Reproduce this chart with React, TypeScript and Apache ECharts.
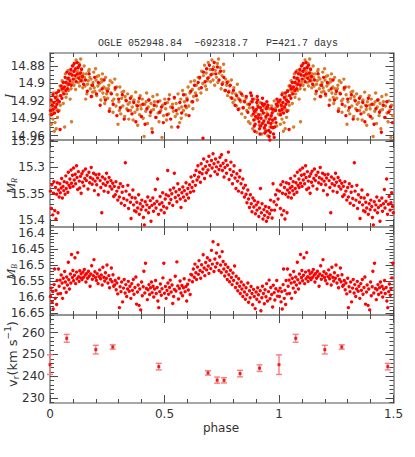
import React, { useEffect, useRef } from 'react';
import * as echarts from 'echarts';

const TITLE = 'OGLE 052948.84  \u2212692318.7   P=421.7 days';
const X_LABELS = [0, 0.5, 1, 1.5];
const I_TICKS = [14.88, 14.9, 14.92, 14.94, 14.96];
const R_TICKS = [15.25, 15.3, 15.35, 15.4];
const B_TICKS = [16.4, 16.45, 16.5, 16.55, 16.6, 16.65];
const V_TICKS = [230, 240, 250, 260];

// I band, orange survey: flat list of phase, mag pairs over one cycle
const iOrangeFlat = [
0.001,14.936,0.004,14.922,0.006,14.947,0.009,14.933,0.012,14.928,0.013,14.941,0.015,14.911,0.018,14.927,0.019,14.955,0.022,14.945,0.025,14.918,0.027,14.952,0.029,14.930,0.031,14.915,0.033,14.939,0.036,14.921,0.038,14.908,0.040,14.931,0.044,14.903,0.045,14.925,0.048,14.914,0.050,14.907,0.053,14.897,0.057,14.910,0.058,14.923,0.061,14.906,0.064,14.950,0.066,14.899,0.067,14.889,0.070,14.916,0.072,14.912,0.075,14.895,0.077,14.902,0.079,14.885,0.081,14.908,0.083,14.894,0.086,14.900,0.088,14.918,0.090,14.887,0.092,14.906,0.094,14.944,0.097,14.891,0.099,14.899,
0.102,14.879,0.105,14.902,0.107,14.886,0.109,14.895,0.112,14.907,0.114,14.873,0.116,14.890,0.117,14.893,0.119,14.886,0.122,14.881,0.124,14.899,0.127,14.877,0.129,14.903,0.131,14.891,0.134,14.872,0.136,14.888,0.137,14.883,0.139,14.894,0.141,14.897,0.143,14.905,0.146,14.889,0.149,14.880,
0.151,14.893,0.153,14.903,0.156,14.918,0.158,14.889,0.161,14.912,0.164,14.901,0.167,14.897,0.169,14.886,0.171,14.884,0.174,14.893,0.176,14.906,0.179,14.895,0.181,14.902,0.183,14.915,0.186,14.910,0.188,14.899,0.191,14.887,0.193,14.905,0.196,14.909,0.199,14.883,0.201,14.896,0.204,14.914,0.206,14.892,0.209,14.903,0.213,14.891,0.216,14.900,0.218,14.908,0.222,14.919,0.224,14.895,0.226,14.898,0.229,14.889,0.231,14.911,0.235,14.904,0.237,14.916,0.239,14.923,0.243,14.893,0.244,14.906,0.247,14.912,
0.252,14.917,0.255,14.906,0.257,14.902,0.261,14.929,0.263,14.897,0.266,14.911,0.271,14.899,0.273,14.920,0.275,14.933,0.279,14.918,0.283,14.895,0.284,14.907,0.288,14.926,0.291,14.904,0.293,14.913,0.297,14.947,0.301,14.921,0.303,14.931,0.305,14.904,0.309,14.935,0.313,14.917,0.315,14.910,0.318,14.926,0.322,14.909,0.326,14.938,0.328,14.915,0.331,14.919,0.335,14.929,0.339,14.912,0.341,14.924,0.344,14.941,0.348,14.922,
0.352,14.931,0.356,14.915,0.359,14.927,0.363,14.942,0.365,14.920,0.367,14.919,0.371,14.933,0.374,14.910,0.378,14.925,0.381,14.930,0.383,14.948,0.386,14.921,0.391,14.936,0.394,14.914,0.396,14.925,0.398,14.929,0.403,14.918,0.407,14.940,0.411,14.961,0.414,14.924,0.418,14.932,0.420,14.921,0.422,14.911,0.426,14.946,0.429,14.927,0.433,14.919,0.437,14.937,0.441,14.923,0.443,14.931,0.445,14.952,0.449,14.915,0.452,14.930,0.456,14.921,0.461,14.939,0.465,14.926,0.468,14.913,0.472,14.934,0.476,14.944,0.480,14.920,0.484,14.931,0.489,14.962,0.492,14.925,0.496,14.937,
0.501,14.918,0.505,14.929,0.509,14.942,0.513,14.922,0.518,14.935,0.522,14.913,0.527,14.927,0.531,14.950,0.535,14.924,0.539,14.932,0.543,14.917,0.547,14.938,0.551,14.923,0.555,14.935,0.559,14.912,0.563,14.929,0.566,14.945,0.571,14.918,0.573,14.940,0.575,14.927,0.579,14.908,0.583,14.931,0.587,14.921,0.591,14.913,0.594,14.936,0.596,14.928,0.598,14.917,0.603,14.904,0.606,14.926,0.611,14.911,0.615,14.898,0.618,14.921,0.622,14.907,0.624,14.929,0.627,14.915,0.631,14.897,0.635,14.911,0.639,14.902,0.643,14.919,0.647,14.893,
0.651,14.906,0.653,14.894,0.659,14.911,0.662,14.886,0.667,14.900,0.670,14.891,0.675,14.879,0.679,14.903,0.682,14.888,0.684,14.907,0.687,14.897,0.691,14.876,0.694,14.893,0.699,14.884,0.701,14.898,0.707,14.873,0.710,14.889,0.712,14.896,0.715,14.881,0.719,14.902,0.722,14.885,0.727,14.893,0.731,14.877,0.733,14.899,0.736,14.872,0.739,14.888,0.743,14.882,0.747,14.906,0.751,14.891,0.755,14.899,0.758,14.878,0.759,14.886,0.763,14.908,0.767,14.895,0.771,14.902,0.775,14.914,
0.778,14.898,0.781,14.909,0.785,14.903,0.789,14.916,0.792,14.896,0.796,14.911,0.799,14.922,0.803,14.905,0.807,14.919,0.811,14.912,0.814,14.926,0.818,14.901,0.822,14.917,0.826,14.929,0.829,14.910,0.833,14.921,0.837,14.935,0.841,14.914,0.845,14.928,0.848,14.920,0.852,14.939,0.856,14.917,0.859,14.931,0.863,14.924,0.867,14.944,
0.871,14.928,0.874,14.946,0.878,14.921,0.881,14.937,0.885,14.952,0.889,14.930,0.892,14.918,0.896,14.941,0.899,14.933,0.903,14.956,0.907,14.925,0.911,14.939,0.914,14.948,0.918,14.922,0.921,14.936,0.925,14.958,0.929,14.931,0.932,14.945,0.936,14.927,0.939,14.953,0.943,14.940,0.947,14.934,0.951,14.960,0.954,14.943,0.958,14.929,0.961,14.950,0.965,14.938,0.968,14.926,0.972,14.945,0.975,14.932,0.979,14.920,0.983,14.941,0.986,14.928,0.990,14.949,0.993,14.924,0.997,14.935
];

// I band, red survey
const iRedFlat = [
0.002,14.931,0.005,14.919,0.007,14.936,0.010,14.925,0.013,14.913,0.014,14.930,0.017,14.922,0.020,14.934,0.023,14.916,0.024,14.927,0.028,14.911,0.030,14.924,0.033,14.919,0.035,14.932,0.038,14.909,0.041,14.921,0.044,14.953,0.046,14.914,0.049,14.903,0.052,14.917,0.054,14.906,0.058,14.899,0.060,14.912,0.063,14.904,0.066,14.893,0.069,14.908,0.071,14.899,0.074,14.887,0.077,14.906,0.079,14.894,0.082,14.901,0.085,14.889,0.087,14.897,0.091,14.884,0.093,14.902,0.096,14.890,0.098,14.880,0.101,14.895,0.104,14.886,0.106,14.877,0.109,14.891,0.111,14.883,0.114,14.898,0.118,14.876,0.120,14.889,0.123,14.882,0.126,14.894,0.129,14.879,0.132,14.888,0.135,14.897,0.138,14.884,0.142,14.892,0.147,14.901,
0.155,14.896,0.163,14.909,0.171,14.889,0.180,14.915,0.186,14.902,0.195,14.893,0.203,14.912,0.211,14.899,0.219,14.925,0.228,14.906,0.236,14.896,0.242,14.919,0.251,14.909,0.259,14.932,0.268,14.912,0.276,14.924,0.285,14.905,0.292,14.937,0.300,14.918,0.307,14.928,0.316,14.913,0.324,14.941,0.333,14.920,0.341,14.931,
0.351,14.917,0.358,14.935,0.366,14.922,0.375,14.944,0.382,14.926,0.390,14.917,0.399,14.938,0.406,14.924,0.415,14.947,0.423,14.929,0.431,14.919,0.439,14.933,0.447,14.956,0.455,14.925,0.463,14.939,0.471,14.921,0.479,14.933,0.487,14.927,0.495,14.945,0.503,14.923,0.511,14.936,0.519,14.918,0.527,14.941,0.535,14.928,0.543,14.916,0.551,14.931,0.559,14.950,0.567,14.922,0.575,14.934,0.583,14.913,0.591,14.926,0.599,14.919,0.607,14.937,0.615,14.909,0.623,14.921,0.631,14.902,0.639,14.914,0.647,14.899,
0.654,14.893,0.661,14.905,0.668,14.963,0.670,14.887,0.677,14.898,0.684,14.883,0.689,14.894,0.696,14.879,0.703,14.890,0.710,14.884,0.717,14.876,0.724,14.889,0.731,14.881,0.738,14.896,0.745,14.886,0.752,14.901,0.759,14.893,0.766,14.908,0.773,14.899,0.780,14.910,0.787,14.902,0.794,14.917,0.801,14.908,0.808,14.925,0.815,14.914,0.822,14.930,0.829,14.919,0.836,14.912,0.843,14.928,0.850,14.921,0.857,14.915,0.864,14.933,0.871,14.924,0.876,14.911,
0.880,14.914,0.883,14.921,0.886,14.928,0.888,14.935,0.890,14.942,0.892,14.949,0.894,14.955,0.896,14.947,0.898,14.938,0.901,14.930,0.903,14.922,0.905,14.915,0.907,14.919,0.909,14.927,0.911,14.936,0.913,14.944,0.915,14.952,0.917,14.958,
0.920,14.949,0.922,14.940,0.924,14.931,0.926,14.923,0.928,14.917,0.930,14.925,0.932,14.934,0.934,14.943,0.936,14.951,0.938,14.957,0.941,14.948,0.943,14.938,0.945,14.929,0.947,14.921,0.949,14.927,0.951,14.936,0.953,14.945,0.955,14.954,0.957,14.961,0.960,14.965,
0.962,14.956,0.964,14.946,0.966,14.937,0.968,14.929,0.970,14.934,0.972,14.942,0.974,14.951,0.976,14.958,0.979,14.962,0.981,14.950,0.983,14.940,0.985,14.931,0.988,14.924,0.991,14.918,0.994,14.926,0.997,14.921,
0.885,14.918,0.893,14.932,0.908,14.940,0.919,14.928,0.927,14.946,0.937,14.924,0.944,14.955,0.952,14.925,0.959,14.941,0.967,14.950,0.975,14.930,0.987,14.945
];

// M_R
const mRFlat = [
0.002,15.345,0.006,15.378,0.008,15.333,0.012,15.390,0.015,15.349,0.017,15.327,0.021,15.382,0.024,15.338,0.026,15.398,0.029,15.351,0.032,15.329,0.035,15.386,0.037,15.343,
0.040,15.356,0.043,15.331,0.045,15.348,0.049,15.339,0.051,15.321,0.054,15.358,0.057,15.336,0.060,15.344,0.062,15.327,0.066,15.351,0.069,15.316,0.071,15.340,0.074,15.329,0.078,15.347,0.080,15.309,0.083,15.334,0.087,15.322,0.088,15.338,0.092,15.305,0.094,15.330,0.098,15.315,0.101,15.336,0.103,15.301,0.106,15.324,0.110,15.313,0.112,15.331,0.116,15.297,0.118,15.319,0.121,15.342,0.124,15.308,0.128,15.326,0.130,15.339,0.133,15.317,0.136,15.349,0.139,15.312,
0.142,15.328,0.145,15.307,0.148,15.335,0.152,15.321,0.155,15.303,0.159,15.325,0.162,15.315,0.166,15.341,0.170,15.309,0.173,15.329,0.176,15.319,0.180,15.300,0.184,15.332,0.187,15.322,0.190,15.311,0.194,15.344,0.197,15.326,0.200,15.314,0.204,15.333,0.208,15.320,0.211,15.352,0.214,15.313,0.219,15.325,0.222,15.338,0.226,15.386,0.229,15.318,0.232,15.331,0.236,15.345,0.240,15.322,0.243,15.334,0.247,15.311,0.251,15.328,0.254,15.347,0.258,15.319,0.262,15.336,0.266,15.325,0.270,15.341,0.274,15.330,0.278,15.355,
0.281,15.336,0.285,15.352,0.288,15.327,0.292,15.345,0.296,15.362,0.300,15.338,0.303,15.356,0.307,15.331,0.311,15.368,0.315,15.347,0.318,15.336,0.322,15.359,0.326,15.372,0.329,15.291,0.332,15.345,0.336,15.362,0.340,15.334,0.343,15.378,0.347,15.352,0.351,15.366,0.354,15.397,0.358,15.357,0.362,15.343,0.365,15.371,0.369,15.382,
0.372,15.358,0.376,15.384,0.379,15.366,0.383,15.377,0.387,15.352,0.390,15.389,0.394,15.369,0.398,15.380,0.401,15.362,0.405,15.374,0.408,15.395,0.412,15.409,0.416,15.365,0.419,15.381,0.423,15.371,0.427,15.356,0.430,15.386,0.434,15.376,0.438,15.363,0.441,15.402,0.445,15.372,0.449,15.358,0.452,15.383,0.456,15.369,0.460,15.342,0.463,15.377,0.467,15.364,0.470,15.322,0.474,15.389,0.478,15.370,0.481,15.355,0.485,15.381,0.489,15.367,0.492,15.348,0.496,15.374,0.499,15.386,0.503,15.360,0.507,15.352,0.510,15.377,0.514,15.306,
0.518,15.354,0.521,15.368,0.525,15.343,0.528,15.361,0.532,15.350,0.536,15.372,0.540,15.339,0.543,15.311,0.547,15.357,0.550,15.346,0.554,15.365,0.558,15.331,0.561,15.353,0.565,15.342,0.569,15.360,0.572,15.376,0.576,15.348,0.580,15.337,0.583,15.356,0.587,15.344,0.591,15.363,0.594,15.329,0.598,15.351,0.602,15.340,0.605,15.358,0.609,15.333,0.613,15.347,0.616,15.318,0.620,15.338,0.624,15.327,0.627,15.345,
0.631,15.315,0.635,15.334,0.638,15.306,0.642,15.324,0.646,15.297,0.649,15.318,0.653,15.309,0.657,15.328,0.660,15.293,0.664,15.312,0.668,15.303,0.671,15.284,0.675,15.321,0.679,15.298,0.683,15.310,0.686,15.289,0.690,15.305,0.694,15.279,0.697,15.296,0.701,15.316,0.705,15.287,0.708,15.301,0.712,15.274,0.716,15.293,0.720,15.308,0.723,15.284,0.727,15.299,0.731,15.313,0.734,15.290,0.738,15.304,0.742,15.281,0.745,15.297,0.749,15.276,0.753,15.306,0.756,15.292,
0.760,15.318,0.764,15.300,0.768,15.287,0.771,15.311,0.775,15.296,0.779,15.271,0.782,15.323,0.786,15.304,0.790,15.290,0.793,15.315,0.797,15.331,0.801,15.308,0.804,15.297,0.808,15.320,0.812,15.340,0.816,15.312,0.819,15.326,0.823,15.345,0.827,15.318,0.830,15.306,0.834,15.331,0.838,15.348,
0.842,15.322,0.845,15.339,0.849,15.356,0.853,15.334,0.856,15.351,0.860,15.367,0.864,15.343,0.867,15.360,0.871,15.376,0.875,15.352,0.879,15.369,0.882,15.384,0.886,15.358,0.890,15.375,0.893,15.363,0.897,15.388,0.901,15.371,0.904,15.381,0.908,15.366,0.912,15.393,0.915,15.377,0.919,15.340,0.923,15.386,0.926,15.369,0.930,15.398,0.934,15.380,0.937,15.391,0.941,15.374,0.945,15.402,0.948,15.384,0.952,15.395,0.956,15.376,0.959,15.388,0.963,15.362,0.967,15.381,0.970,15.396,0.974,15.331,0.978,15.365,0.981,15.381,0.985,15.352,0.989,15.371,0.992,15.343,0.996,15.360
];

// M_B
const mBFlat = [
0.002,16.598,0.005,16.572,0.009,16.615,0.012,16.583,0.014,16.637,0.018,16.561,0.020,16.512,0.023,16.604,0.026,16.579,0.029,16.623,0.031,16.548,0.035,16.590,
0.037,16.512,0.040,16.566,0.044,16.547,0.046,16.589,0.049,16.531,0.053,16.556,0.055,16.604,0.058,16.541,0.062,16.572,0.064,16.520,0.067,16.553,0.071,16.585,0.073,16.537,0.076,16.562,0.080,16.491,0.082,16.546,0.085,16.575,0.089,16.528,0.091,16.556,0.094,16.467,0.098,16.539,0.100,16.517,0.103,16.549,0.107,16.532,0.109,16.477,0.112,16.558,0.116,16.522,0.118,16.543,0.121,16.461,0.125,16.536,0.127,16.551,0.130,16.518,0.134,16.540,0.136,16.527,
0.140,16.545,0.144,16.522,0.147,16.538,0.150,16.514,0.154,16.531,0.157,16.553,0.160,16.526,0.164,16.541,0.168,16.519,0.171,16.535,0.175,16.566,0.178,16.528,0.182,16.502,0.185,16.544,0.189,16.533,0.192,16.483,0.196,16.521,0.199,16.539,0.203,16.548,0.206,16.527,0.210,16.558,0.214,16.536,0.217,16.515,0.221,16.543,0.224,16.531,0.228,16.562,0.231,16.507,0.235,16.538,0.239,16.550,0.242,16.524,0.246,16.541,0.249,16.500,0.253,16.556,0.257,16.533,0.260,16.571,0.264,16.545,0.268,16.509,0.271,16.552,0.275,16.530,0.278,16.566,
0.282,16.562,0.285,16.548,0.289,16.577,0.292,16.556,0.296,16.590,0.300,16.541,0.303,16.633,0.306,16.568,0.310,16.583,0.313,16.553,0.317,16.615,0.321,16.572,0.324,16.545,0.328,16.587,0.331,16.561,0.335,16.598,0.339,16.575,0.342,16.551,0.346,16.582,0.349,16.566,0.353,16.604,0.357,16.558,0.360,16.579,0.364,16.545,0.367,16.591,0.371,16.570,0.375,16.537,0.378,16.622,0.382,16.584,0.385,16.562,0.389,16.626,0.392,16.575,0.396,16.640,0.400,16.553,0.403,16.596,0.407,16.568,0.410,16.519,0.414,16.587,0.417,16.494,0.421,16.573,0.425,16.608,
0.428,16.577,0.432,16.561,0.435,16.592,0.439,16.571,0.443,16.553,0.446,16.586,0.450,16.566,0.453,16.600,0.457,16.575,0.461,16.548,0.464,16.589,0.468,16.570,0.471,16.612,0.475,16.633,0.479,16.583,0.482,16.559,0.486,16.594,0.489,16.574,0.493,16.540,0.497,16.494,0.500,16.588,0.504,16.567,0.507,16.604,0.511,16.579,0.515,16.556,0.518,16.591,0.522,16.570,0.525,16.547,0.529,16.584,0.533,16.562,0.536,16.620,0.540,16.598,0.543,16.576,0.547,16.535,0.550,16.581,0.554,16.490,0.558,16.565,0.561,16.606,0.565,16.573,0.568,16.550,0.572,16.587,0.576,16.564,0.579,16.596,0.583,16.571,0.586,16.543,0.590,16.583,0.594,16.567,0.597,16.612,0.601,16.560,0.604,16.578,0.608,16.547,0.612,16.592,0.615,16.529,
0.619,16.531,0.622,16.552,0.626,16.512,0.630,16.538,0.633,16.497,0.637,16.524,0.640,16.545,0.644,16.506,0.648,16.529,0.651,16.486,0.655,16.517,0.658,16.541,0.662,16.499,0.666,16.522,0.669,16.468,0.673,16.509,0.676,16.533,0.680,16.492,0.684,16.515,0.687,16.477,0.691,16.503,0.694,16.526,0.698,16.485,0.702,16.511,0.705,16.454,0.709,16.497,0.712,16.427,0.716,16.520,0.720,16.481,0.723,16.506,0.727,16.462,0.730,16.494,0.734,16.436,0.738,16.517,0.741,16.474,0.745,16.500,0.748,16.523,0.752,16.458,0.756,16.489,
0.759,16.512,0.763,16.534,0.766,16.498,0.770,16.521,0.774,16.545,0.777,16.507,0.781,16.530,0.784,16.552,0.788,16.516,0.792,16.539,0.795,16.561,0.799,16.525,0.802,16.548,0.806,16.503,0.810,16.570,0.813,16.535,0.817,16.557,0.820,16.580,0.824,16.543,0.828,16.566,0.831,16.589,0.835,16.553,0.838,16.575,0.842,16.598,0.846,16.562,
0.849,16.584,0.853,16.607,0.856,16.571,0.860,16.593,0.864,16.556,0.867,16.616,0.871,16.580,0.874,16.602,0.878,16.567,0.882,16.589,0.885,16.624,0.889,16.576,0.892,16.598,0.896,16.636,0.900,16.584,0.903,16.607,0.907,16.571,0.910,16.593,0.914,16.615,0.918,16.580,0.921,16.643,0.925,16.602,0.928,16.566,0.932,16.589,0.936,16.621,0.939,16.577,0.943,16.599,0.946,16.558,0.950,16.612,0.954,16.583,0.957,16.547,0.961,16.605,0.964,16.570,0.968,16.592,0.972,16.631,0.975,16.563,0.979,16.586,0.982,16.609,0.986,16.574,0.990,16.548,0.993,16.597,0.997,16.581
];

// radial velocities (km/s)
const rvPhase = [0.0, 0.073, 0.2, 0.274, 0.475, 0.69, 0.73, 0.76, 0.83, 0.915];
const rvVel = [245.3, 257.4, 252.2, 253.4, 244.4, 241.5, 238.2, 238.1, 241.2, 243.7];
const rvErr = [4.5, 1.8, 2.0, 1.0, 1.5, 1.0, 1.4, 1.2, 1.5, 1.5];

const pairs = (flat: number[]) => {
  const out: number[][] = [];
  for (let i = 0; i + 1 < flat.length; i += 2) out.push([flat[i], flat[i + 1]]);
  return out;
};
// phase-folded display: cycle repeated up to phase 1.5
const fold = (pts: number[][]) =>
  pts.concat(pts.filter((p) => p[0] < 0.5).map((p) => [p[0] + 1, ...p.slice(1)]));

const FRAME = '#8c8c8c';
const TICK = '#4a4a4a';
const TXT = '#333333';
const LBL_FONT = '"DejaVu Sans", sans-serif';
const SERIF = '"Liberation Serif", serif';
const ORANGE = '#d97b2b';
const RED = '#ff0000';

const steps = (min: number, max: number, step: number) => {
  const out: number[] = [];
  const start = Math.ceil(min / step - 1e-9);
  const end = Math.floor(max / step + 1e-9);
  for (let k = start; k <= end; k++) out.push(+(k * step).toFixed(6));
  return out;
};

const panels = [
  { top: 53, height: 87, min: 14.865, max: 14.965, ticks: I_TICKS, minor: 0.005, inverse: true },
  { top: 140, height: 87, min: 15.248, max: 15.413, ticks: R_TICKS, minor: 0.01, inverse: true },
  { top: 227, height: 88, min: 16.381, max: 16.656, ticks: B_TICKS, minor: 0.01, inverse: true },
  { top: 315, height: 88, min: 227.7, max: 268.1, ticks: V_TICKS, minor: 2, inverse: false },
];

export default function App() {
  const ref = useRef<HTMLDivElement>(null);
  useEffect(() => {
    document.body.style.margin = '0';
    if (!ref.current) return;
    const chart = echarts.init(ref.current, undefined, { renderer: 'svg' });

    const grids = panels.map((p) => ({ left: 50, width: 343.5, top: p.top, height: p.height }));
    const xAxes: any[] = [];
    const yAxes: any[] = [];
    const xMinor = steps(0, 1.5, 0.1);
    panels.forEach((p, g) => {
      const baseX = { type: 'value', gridIndex: g, min: 0, max: 1.5, splitLine: { show: false } };
      ['bottom', 'top'].forEach((pos) => {
        xAxes.push({
          ...baseX, position: pos,
          axisLine: { show: true, onZero: false, lineStyle: { color: FRAME, width: 1.6 } },
          axisTick: { show: true, inside: true, length: 8, customValues: X_LABELS, lineStyle: { color: TICK, width: 1 } },
          axisLabel: {
            show: g === 3 && pos === 'bottom', customValues: X_LABELS, margin: 5,
            color: TXT, fontSize: 12, fontFamily: LBL_FONT,
          },
        });
        xAxes.push({
          ...baseX, position: pos,
          axisLine: { show: false, onZero: false },
          axisTick: { show: true, inside: true, length: 4, customValues: xMinor, lineStyle: { color: TICK, width: 1 } },
          axisLabel: { show: false },
        });
      });
      const yMinor = steps(p.min, p.max, p.minor);
      const baseY = { type: 'value', gridIndex: g, min: p.min, max: p.max, inverse: p.inverse, splitLine: { show: false } };
      ['left', 'right'].forEach((pos) => {
        yAxes.push({
          ...baseY, position: pos,
          axisLine: { show: true, onZero: false, lineStyle: { color: FRAME, width: 1.6 } },
          axisTick: { show: true, inside: true, length: 8, customValues: p.ticks, lineStyle: { color: TICK, width: 1 } },
          axisLabel: {
            show: pos === 'left', customValues: p.ticks, margin: 5,
            color: TXT, fontSize: 12, fontFamily: LBL_FONT,
          },
        });
        yAxes.push({
          ...baseY, position: pos,
          axisLine: { show: false, onZero: false },
          axisTick: { show: true, inside: true, length: 4, customValues: yMinor, lineStyle: { color: TICK, width: 1 } },
          axisLabel: { show: false },
        });
      });
    });

    const scatter = (flat: number[], g: number, color: string) => ({
      type: 'scatter', xAxisIndex: g * 4, yAxisIndex: g * 4, data: fold(pairs(flat)),
      symbol: 'circle', symbolSize: 3.4, itemStyle: { color, opacity: 1 }, silent: true,
    });

    const rv = rvPhase.map((ph, i) => [ph, rvVel[i], rvErr[i]]);
    const subRich = (fs: number, va: string) => ({ fontSize: fs, fontStyle: 'italic', fontFamily: SERIF, fill: TXT, verticalAlign: va, lineHeight: 10 });

    chart.setOption({
      animation: false,
      grid: grids,
      xAxis: xAxes,
      yAxis: yAxes,
      series: [
        scatter(iOrangeFlat, 0, ORANGE),
        scatter(iRedFlat, 0, RED),
        scatter(mRFlat, 1, RED),
        scatter(mBFlat, 2, RED),
        {
          type: 'custom', xAxisIndex: 12, yAxisIndex: 12, data: fold(rv),
          encode: { x: 0, y: 1 },
          renderItem: (params: any, api: any) => {
            const x = api.value(0), y = api.value(1), e = api.value(2);
            const t = api.coord([x, y + e]);
            const b = api.coord([x, y - e]);
            const st = { stroke: '#ff7a7a', lineWidth: 1.4 };
            return {
              type: 'group',
              children: [
                { type: 'line', shape: { x1: t[0], y1: t[1], x2: b[0], y2: b[1] }, style: st },
                { type: 'line', shape: { x1: t[0] - 3, y1: t[1], x2: t[0] + 3, y2: t[1] }, style: st },
                { type: 'line', shape: { x1: b[0] - 3, y1: b[1], x2: b[0] + 3, y2: b[1] }, style: st },
              ],
            };
          },
        },
        {
          type: 'scatter', xAxisIndex: 12, yAxisIndex: 12, data: fold(rv).map((d) => [d[0], d[1]]),
          symbol: 'rect', symbolSize: 3, itemStyle: { color: '#e00000' },
        },
      ],
      graphic: [
        { type: 'text', x: 218, y: 43, style: { text: TITLE, align: 'center', verticalAlign: 'middle', fontSize: 10, fontFamily: '"Liberation Mono", monospace', fill: TXT } },
        { type: 'text', x: 221, y: 428, style: { text: 'phase', align: 'center', verticalAlign: 'middle', fontSize: 12, fontFamily: LBL_FONT, fill: TXT } },
        { type: 'text', x: 8, y: 96, rotation: Math.PI / 2, style: { text: 'I', align: 'center', verticalAlign: 'middle', fontSize: 13, fontStyle: 'italic', fontFamily: SERIF, fill: TXT } },
        {
          type: 'text', x: 10, y: 186, rotation: Math.PI / 2,
          style: {
            text: '{m|M}{s|R}', align: 'center', verticalAlign: 'middle', fill: TXT,
            rich: { m: { fontSize: 13, fontStyle: 'italic', fontFamily: SERIF, fill: TXT, lineHeight: 16 }, s: subRich(8, 'bottom') },
          },
        },
        {
          type: 'text', x: 10, y: 272, rotation: Math.PI / 2,
          style: {
            text: '{m|M}{s|B}', align: 'center', verticalAlign: 'middle', fill: TXT,
            rich: { m: { fontSize: 13, fontStyle: 'italic', fontFamily: SERIF, fill: TXT, lineHeight: 16 }, s: subRich(8, 'bottom') },
          },
        },
        {
          type: 'text', x: 12, y: 354, rotation: Math.PI / 2,
          style: {
            text: '{n|v}{s|r}{n|(km s}{p|\u22121}{n|)}', align: 'center', verticalAlign: 'middle', fill: TXT,
            rich: {
              n: { fontSize: 13, fontFamily: LBL_FONT, fill: TXT, lineHeight: 17 },
              s: { fontSize: 9, fontFamily: LBL_FONT, fill: TXT, verticalAlign: 'bottom', lineHeight: 10 },
              p: { fontSize: 9, fontFamily: LBL_FONT, fill: TXT, verticalAlign: 'top', lineHeight: 10 },
            },
          },
        },
      ],
    });
    return () => chart.dispose();
  }, []);
  return <div ref={ref} style={{ width: 415, height: 457 }} />;
}
